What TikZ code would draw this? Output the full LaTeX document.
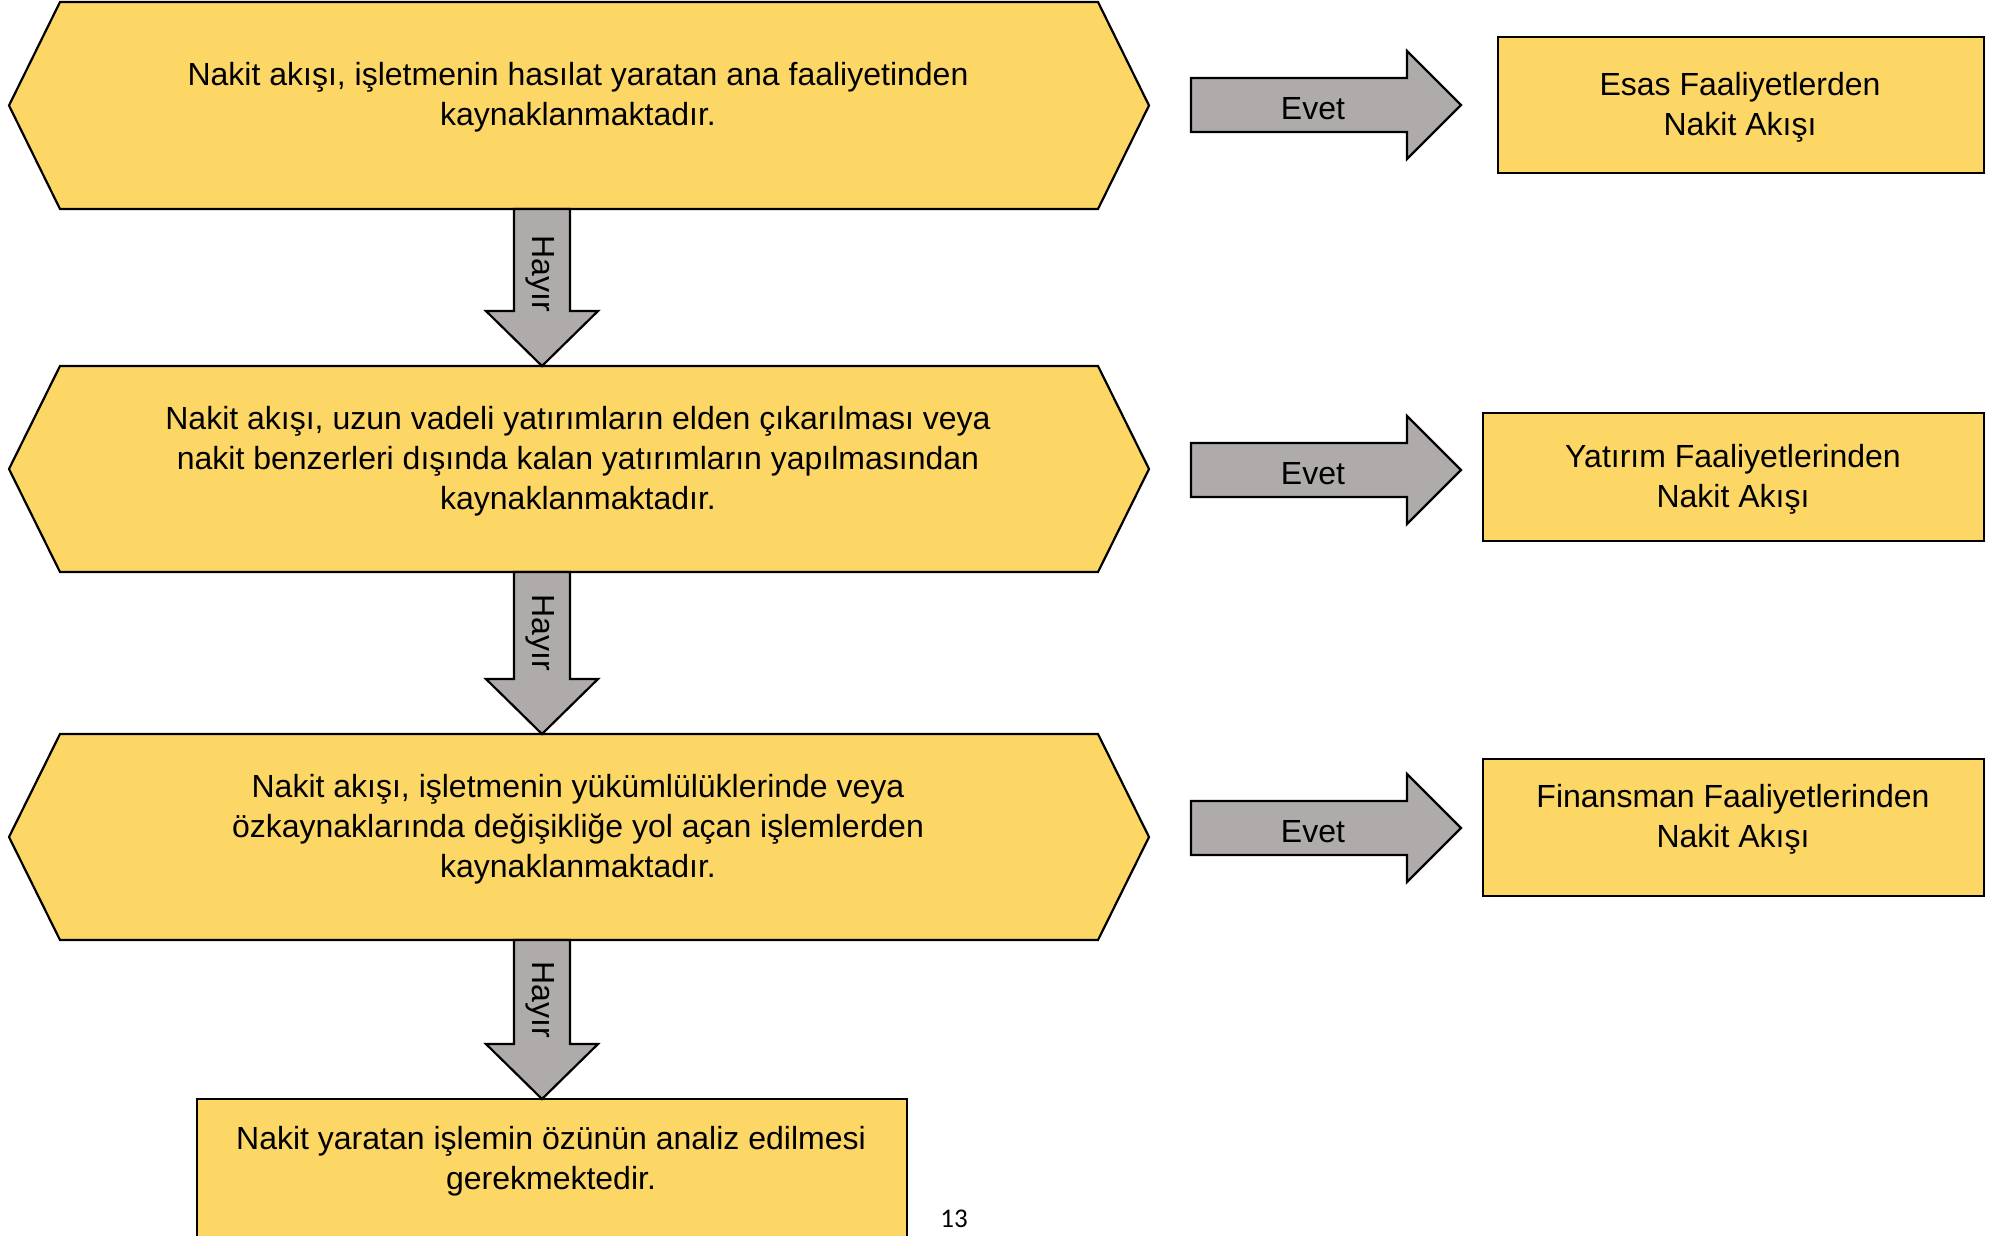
\documentclass[tikz,border=0pt]{standalone}
\usepackage{fontspec}
\setmainfont{Liberation Sans}
\newfontfamily\pagefont{Carlito}
\usetikzlibrary{calc}
\definecolor{hexyellow}{HTML}{FCD766}
\definecolor{arrowgray}{HTML}{AFABAB}
\tikzset{
  shapeline/.style={draw=black, line width=2.2pt, line join=miter},
  yellowfill/.style={shapeline, fill=hexyellow},
  grayblock/.style={shapeline, fill=arrowgray},
  holder/.style={rectangle, inner sep=0pt, outer sep=0pt},
  txt/.style={inner sep=0pt, align=center, font=\fontsize{32}{40}\selectfont},
  boxnode/.style={yellowfill, rectangle, inner sep=0pt, outer sep=0pt},
}
\newcommand\hexdraw[1]{%
  \draw[yellowfill] (#1.west) -- ([xshift=51pt]#1.north west) -- ([xshift=-51pt]#1.north east)
    -- (#1.east) -- ([xshift=-51pt]#1.south east) -- ([xshift=51pt]#1.south west) -- cycle;}
\newcommand\downblock[2]{%
  \draw[grayblock] let \p1=(#1), \p2=(#2) in
   (\x1-28pt,\y1) -- (\x1+28pt,\y1) -- (\x1+28pt,\y2+55pt) -- (\x1+56pt,\y2+55pt)
   -- (\x1,\y2) -- (\x1-56pt,\y2+55pt) -- (\x1-28pt,\y2+55pt) -- cycle;}
\newcommand\rightblock[2]{%
  \draw[grayblock] let \p1=(#1), \p2=(#2) in
   (\x1,\y1+27pt) -- (\x2-54pt,\y1+27pt) -- (\x2-54pt,\y1+54pt) -- (\x2,\y1)
   -- (\x2-54pt,\y1-54pt) -- (\x2-54pt,\y1-27pt) -- (\x1,\y1-27pt) -- cycle;}
\begin{document}
\begin{tikzpicture}[x=1pt,y=-1pt]
\useasboundingbox (0,0) rectangle (2008,1236);
\clip (0,0) rectangle (2008,1236);
\fill[white] (0,0) rectangle (2008,1236);

% hexagon holders
\node[holder, minimum width=1140, minimum height=207] (h1) at (579,105.5) {};
\node[holder, minimum width=1140, minimum height=206] (h2) at (579,469) {};
\node[holder, minimum width=1140, minimum height=206] (h3) at (579,837) {};
\hexdraw{h1}
\hexdraw{h2}
\hexdraw{h3}

\node[txt] (h1t) at (578,97) {Nakit akışı, işletmenin hasılat yaratan ana faaliyetinden\\kaynaklanmaktadır.};
\node[txt] (h2t) at (578,461) {Nakit akışı, uzun vadeli yatırımların elden çıkarılması veya\\nakit benzerleri dışında kalan yatırımların yapılmasından\\kaynaklanmaktadır.};
\node[txt] (h3t) at (578,829) {Nakit akışı, işletmenin yükümlülüklerinde veya\\özkaynaklarında değişikliğe yol açan işlemlerden\\kaynaklanmaktadır.};

% result boxes
\node[boxnode, minimum width=486, minimum height=136] (b1) at (1741,105) {};
\node[boxnode, minimum width=501, minimum height=128] (b2) at (1733.5,477) {};
\node[boxnode, minimum width=501, minimum height=137] (b3) at (1733.5,827.5) {};
\node[boxnode, minimum width=710, minimum height=161] (b4) at (552,1179.5) {};
\node[txt] (b1t) at (1740,107) {Esas Faaliyetlerden\\Nakit Akışı};
\node[txt] (b2t) at (1733,479) {Yatırım Faaliyetlerinden\\Nakit Akışı};
\node[txt] (b3t) at (1733,819) {Finansman Faaliyetlerinden\\Nakit Akışı};
\node[txt] (b4t) at (551,1161) {Nakit yaratan işlemin özünün analiz edilmesi\\gerekmektedir.};

% down arrows (Hayır)
\coordinate (d1s) at (542,209);
\coordinate (d2s) at (542,572);
\coordinate (d3s) at (542,940);
\downblock{d1s}{h2.north -| d1s}
\downblock{d2s}{h3.north -| d2s}
\downblock{d3s}{b4.north -| d3s}
\node[txt, rotate=-90] (n1) at (540,274) {Hayır};
\node[txt, rotate=-90] (n2) at (540,633) {Hayır};
\node[txt, rotate=-90] (n3) at (540,1000) {Hayır};

% right arrows (Evet)
\coordinate (e1s) at (1191,105);
\coordinate (e1t) at (1461,105);
\coordinate (e2s) at (1191,470);
\coordinate (e2t) at (1461,470);
\coordinate (e3s) at (1191,828);
\coordinate (e3t) at (1461,828);
\rightblock{e1s}{e1t}
\rightblock{e2s}{e2t}
\rightblock{e3s}{e3t}
\node[txt] (y1) at (1313,109) {Evet};
\node[txt] (y2) at (1313,474) {Evet};
\node[txt] (y3) at (1313,832) {Evet};

% page number
\node[inner sep=0pt, font=\pagefont\fontsize{27}{30}\selectfont] (pg) at (954,1219) {13};
\end{tikzpicture}
\end{document}
